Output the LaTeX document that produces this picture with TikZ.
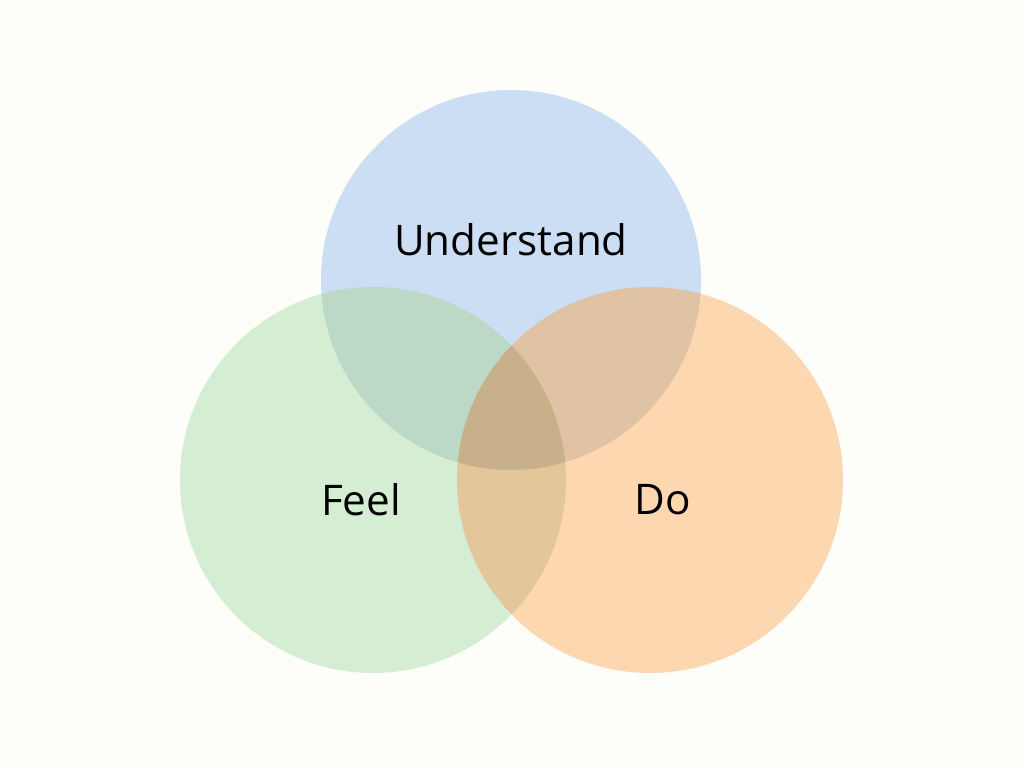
\documentclass[tikz,border=0pt]{standalone}
\usepackage{fontspec}
\setmainfont{Open Sans}
\usepackage{xcolor}
\usepackage{tikz}
\usetikzlibrary{positioning}

\definecolor{bgcol}{RGB}{253,253,250}
\definecolor{undcol}{RGB}{184,209,241}
\definecolor{feelcol}{RGB}{197,231,195}
\definecolor{docol}{RGB}{252,199,145}

\begin{document}
\begin{tikzpicture}[
      x=0.025cm, y=0.025cm,
      set/.style={circle, draw=none, fill opacity=0.7, inner sep=0pt, minimum size=#1},
      shade/.style={fill=black, fill opacity=0.05},
      lbl/.style={font=\fontsize{30}{36}\selectfont, text=black},
    ]
    \fill[bgcol] (0,0) rectangle (1024,768);
    \useasboundingbox (0,0) rectangle (1024,768);
    % the three sets
    \node[set=380*0.025cm, fill=undcol] (und) at (511,488) {};
    \node[set=386*0.025cm, fill=feelcol] (feel) at (373,288) {};
    \node[set=386*0.025cm, fill=docol] (do) at (650,288) {};
    % darker overlaps
    \begin{scope}
      \clip (und.center) circle (190);
      \fill[shade] (feel.center) circle (193);
      \fill[shade] (do.center) circle (193);
    \end{scope}
    \begin{scope}
      \clip (feel.center) circle (193);
      \fill[shade] (do.center) circle (193);
    \end{scope}
    % labels
    \node[lbl] (undtxt) at (511,528) {Understand};
    \node[lbl] (feeltxt) at (361,268) {Feel};
    \node[lbl] (dotxt) at (663,268) {Do};
  \end{tikzpicture}
\end{document}
